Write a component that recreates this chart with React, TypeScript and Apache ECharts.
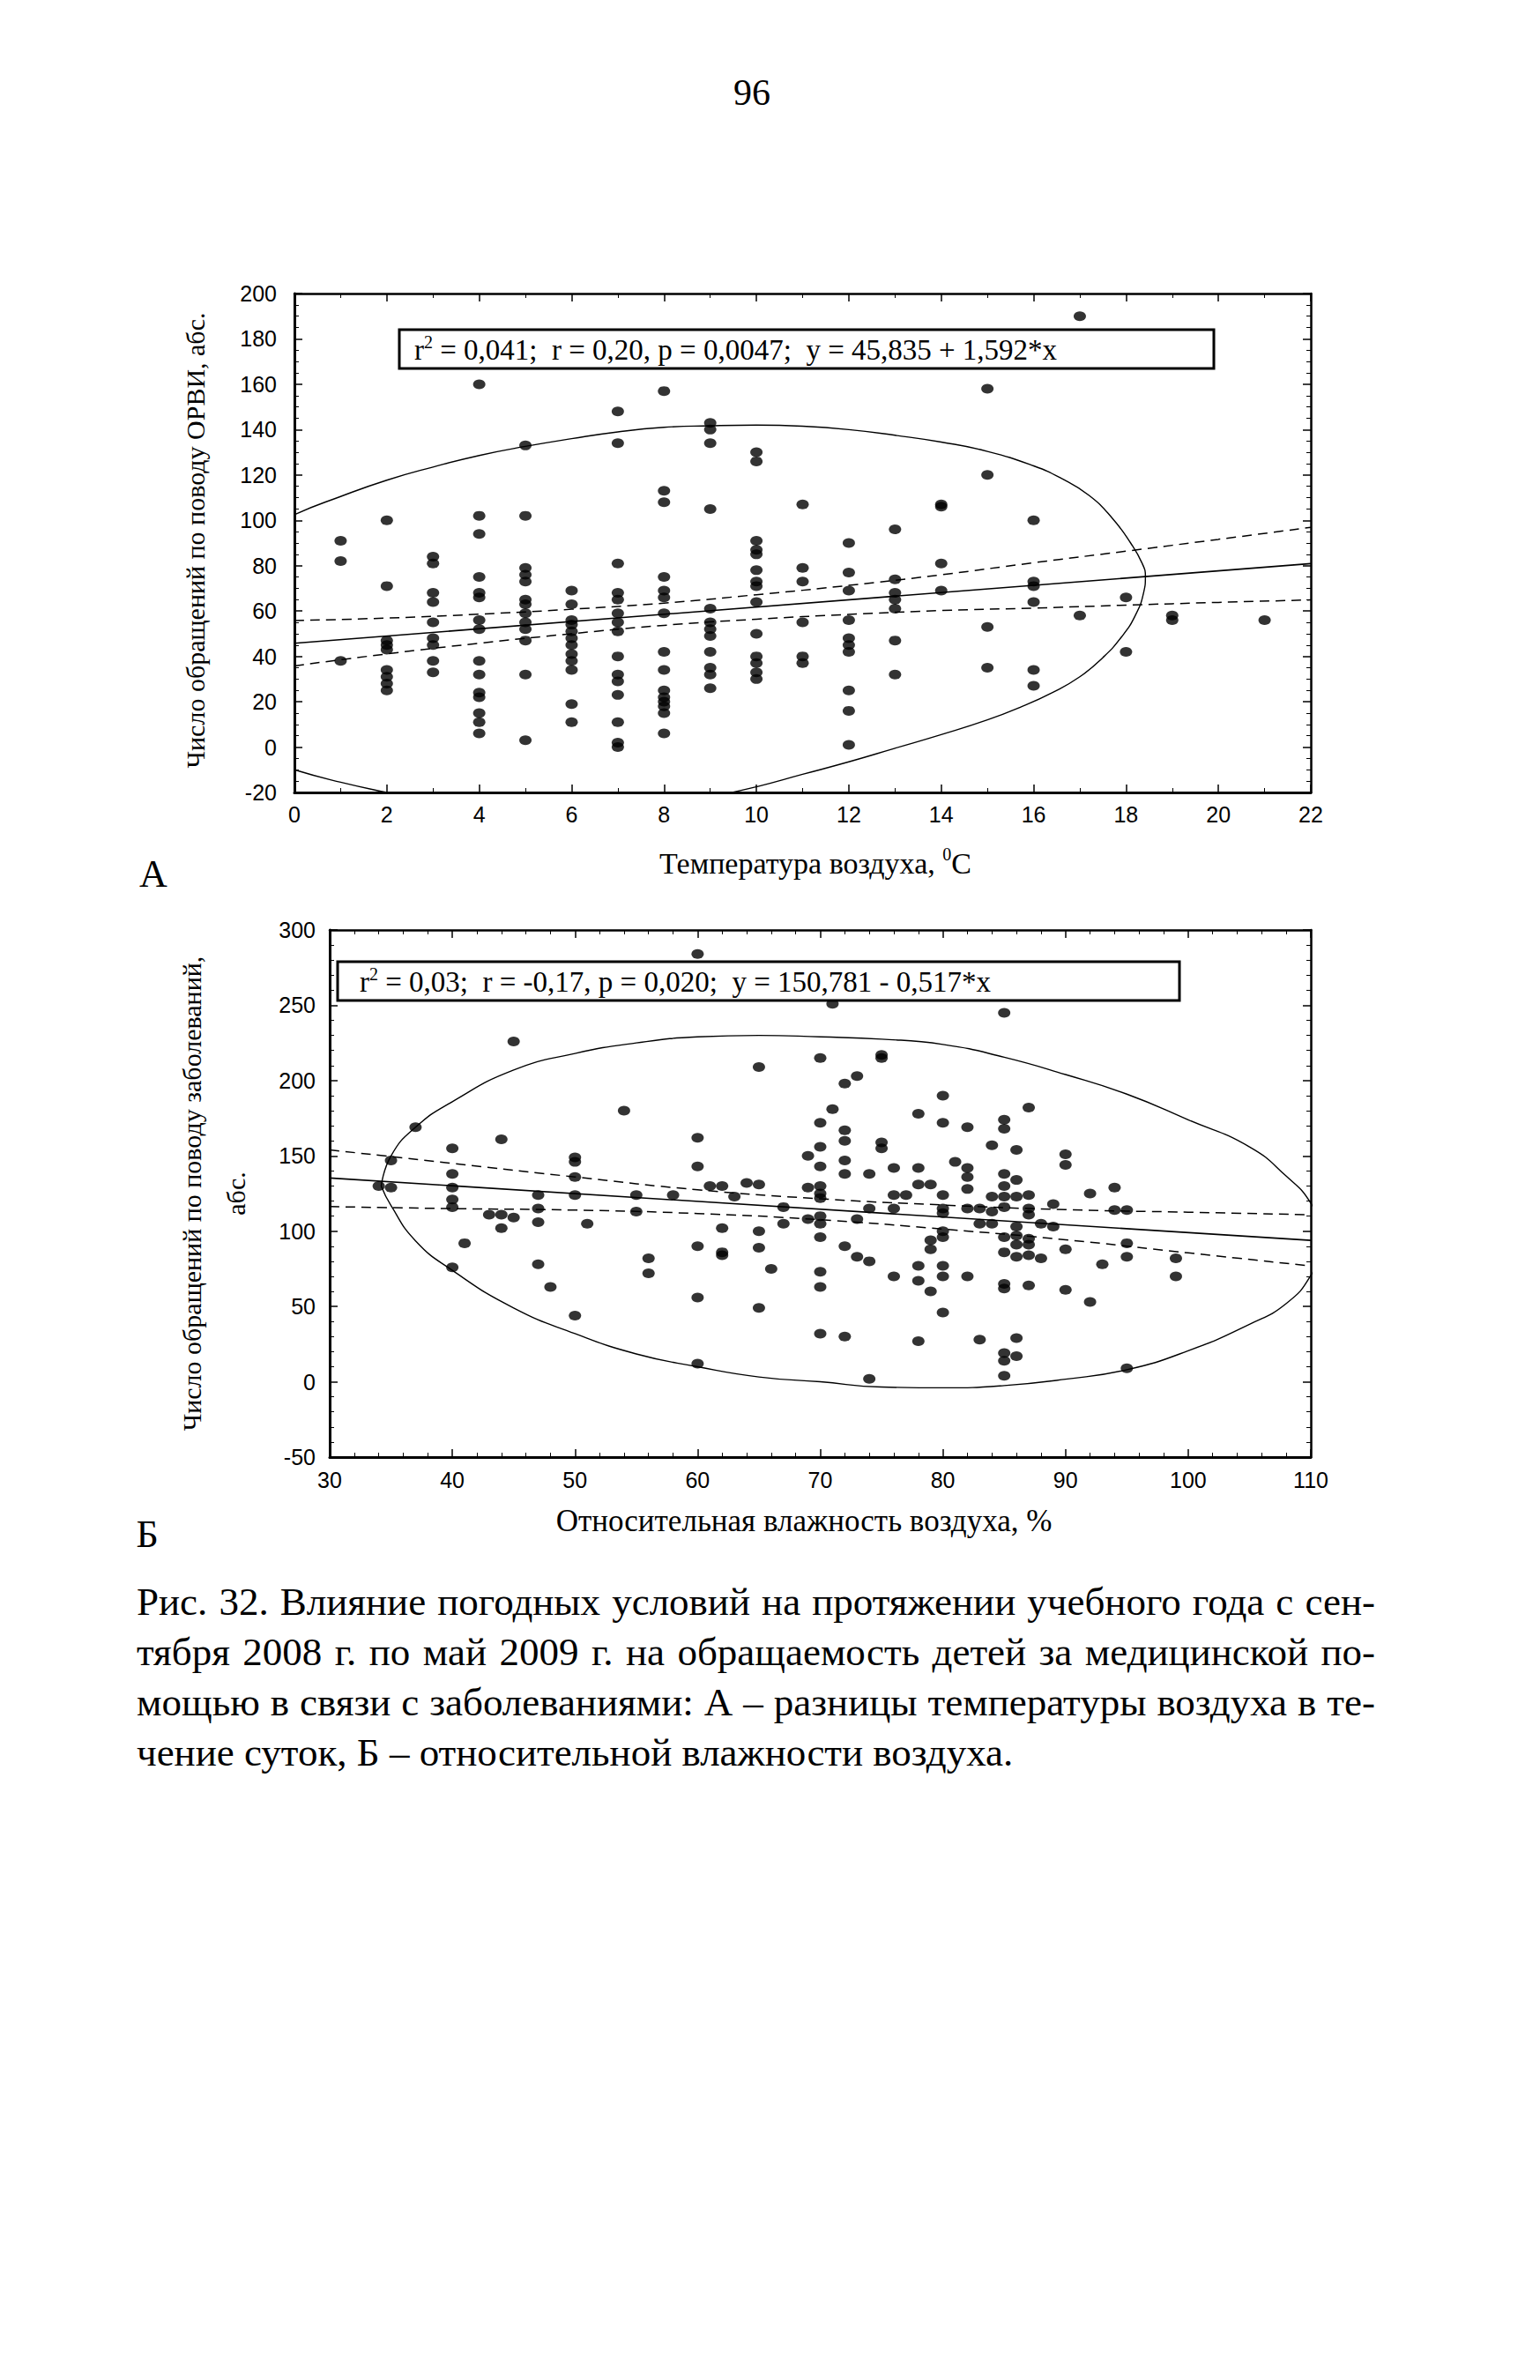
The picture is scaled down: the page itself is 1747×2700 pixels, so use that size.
import React, { useEffect, useRef } from "react";
import * as echarts from "echarts";

// ---------- Chart A: temperature difference vs. ARI visits ----------
const ariTemps = [1, 2, 3, 4, 5, 6, 7, 8, 9, 10, 11, 12, 13, 14, 15, 16, 17, 18, 19, 21];
const ariCounts: number[][] = [
  [91, 82, 38],
  [100, 71, 47, 45, 43, 34, 31, 28, 25],
  [84, 81, 68, 64, 55, 48, 45, 38, 33],
  [160, 102, 94, 75, 68, 66, 56, 52, 38, 32, 24, 22, 15, 11, 6],
  [133, 102, 79, 76, 73, 65, 63, 59, 55, 52, 47, 32, 3],
  [69, 63, 56, 54, 51, 48, 45, 41, 38, 34, 19, 11],
  [148, 134, 81, 68, 65, 59, 55, 51, 40, 32, 29, 23, 11, 2, 0],
  [157, 113, 108, 75, 69, 66, 59, 42, 34, 25, 22, 20, 18, 15, 6],
  [143, 140, 134, 105, 61, 55, 52, 49, 42, 35, 32, 26],
  [130, 126, 91, 87, 85, 78, 73, 71, 64, 50, 40, 37, 33, 30],
  [107, 79, 73, 55, 40, 37],
  [90, 77, 69, 56, 48, 45, 42, 25, 16, 1],
  [96, 74, 68, 65, 61, 47, 32],
  [107, 106, 81, 69],
  [158, 120, 53, 35],
  [100, 73, 71, 64, 34, 27],
  [190, 58],
  [66, 42],
  [58, 56],
  [56],
];
const ariFit: number[][] = [[0, 45.8], [22, 80.9]];
const ariBandX = [0, 2, 4, 6, 8, 10, 12, 14, 16, 18, 20, 22];
const ariBandUpper = [55.8, 56.9, 58.6, 60.8, 63.5, 67.2, 71.3, 76.0, 81.3, 86.4, 91.6, 96.9];
const ariBandLower = [35.8, 41.1, 45.8, 50.0, 53.7, 56.4, 58.5, 60.2, 61.3, 62.6, 63.8, 64.9];
const ariEllipse: number[][] = [
  [-2.6, 45], [-2.2, 75], [-1, 92], [0, 102.5], [1, 110.5], [2, 117.7], [3, 123.5], [4, 128.6],
  [5, 132.6], [6, 136], [7, 139], [8, 141], [9, 141.7], [10, 142], [11, 141.5], [12, 140],
  [13, 137.5], [14, 134.5], [15, 130.4], [16, 124], [16.6, 118.5], [17.2, 111], [17.7, 101],
  [18.1, 90], [18.35, 81], [18.42, 75.3], [18.38, 68], [18.2, 58], [17.9, 48.5], [17.5, 39.5],
  [17, 31], [16.4, 24], [15.7, 17.5], [15, 12], [14, 5.5], [13, -0.5], [12, -6.5], [11, -12],
  [10, -17.5], [9, -22], [8, -25.5], [6, -28.5], [4, -27], [3, -24], [2, -20], [1, -15.5],
  [0, -10], [-1, -3], [-2, 10], [-2.5, 28], [-2.6, 45],
];
const ariXTicks = { min: 0, max: 22, interval: 2 };
const ariYTicks = { min: -20, max: 200, interval: 20 };

// ---------- Chart B: relative humidity vs. sickness visits ----------
const humValues = [34, 35, 37, 40, 41, 43, 44, 45, 47, 48, 50, 51, 54, 55, 56, 58, 60, 61, 62, 63, 64, 65, 66, 67, 69, 70, 71, 72, 73, 74, 75, 76, 77, 78, 79, 80, 81, 82, 83, 84, 85, 86, 87, 88, 89, 90, 92, 93, 94, 95, 99];
const sickCounts: number[][] = [
  [130],
  [147, 129],
  [169],
  [155, 138, 129, 121, 116, 76],
  [92],
  [111],
  [161, 111, 102],
  [226, 109],
  [124, 115, 106, 78],
  [63],
  [149, 146, 136, 124, 44],
  [105],
  [180],
  [124, 113],
  [82, 72],
  [124],
  [284, 162, 143, 90, 56, 12],
  [130],
  [130, 102, 86, 84],
  [123],
  [132],
  [209, 131, 100, 89, 49],
  [75],
  [116, 105],
  [150, 129, 108],
  [215, 172, 156, 143, 130, 125, 122, 110, 105, 96, 73, 63, 32],
  [251, 181],
  [198, 167, 160, 147, 138, 90, 30],
  [203, 108, 83],
  [138, 115, 80, 2],
  [217, 215, 159, 155],
  [142, 124, 115, 70],
  [124],
  [178, 142, 131, 77, 67, 27],
  [131, 94, 88, 60],
  [190, 172, 124, 115, 112, 100, 96, 77, 70, 46],
  [146],
  [169, 142, 136, 128, 115, 70],
  [115, 105, 28],
  [157, 123, 113, 105],
  [245, 174, 168, 138, 130, 123, 116, 96, 86, 65, 62, 19, 14, 4],
  [154, 134, 123, 103, 97, 91, 83, 29, 17],
  [182, 124, 115, 111, 95, 91, 84, 64],
  [105, 82],
  [118, 103],
  [151, 144, 88, 61],
  [125, 53],
  [78],
  [129, 114],
  [114, 92, 83, 9],
  [82, 70],
];
const sickFit: number[][] = [[30, 135.3], [110, 93.9]];
const sickBandX = [30, 40, 50, 60, 70, 80, 90, 100, 110];
const sickBandUpper = [154, 145, 136, 127.5, 121.5, 117.4, 114.3, 112.6, 110.9];
const sickBandLower = [116.3, 115, 114, 111.7, 107.6, 101.4, 94.3, 85.6, 76.9];
const sickEllipse: number[][] = [
  [34.2, 130], [35, 150], [37, 169], [40, 186], [45, 207], [50, 218], [55, 225], [60, 229],
  [65, 230], [70, 229], [75, 227.5], [80, 224], [85, 215.5], [90, 204], [95, 191], [100, 174],
  [105, 156], [108, 136.5], [110, 118.6], [111.2, 95], [110, 70.6], [108, 52], [105, 38.2],
  [100, 20.6], [95, 8], [90, 1.7], [85, -2.5], [80, -4], [75, -3.5], [70, 0], [65, 3.2],
  [60, 10], [55, 18.5], [50, 32], [45, 49], [40, 74], [37, 93.6], [35, 117], [34.2, 130],
];
const humXTicks = { min: 30, max: 110, interval: 10 };
const sickYTicks = { min: -50, max: 300, interval: 50 };

// ---------- Texts ----------
const pageNumber = "96";
const ariYTitle = "Число обращений по поводу ОРВИ, абс.";
const ariXTitle = "Температура воздуха, {sup|0}C";
const ariStats = "r{sup|2} = 0,041;  r = 0,20, p = 0,0047;  y = 45,835 + 1,592*x";
const sickYTitle = "Число обращений по поводу заболеваний,\nабс.";
const sickXTitle = "Относительная влажность воздуха, %";
const sickStats = "r{sup|2} = 0,03;  r = -0,17, p = 0,020;  y = 150,781 - 0,517*x";
const captionLines = [
  "Рис. 32. Влияние погодных условий на протяжении учебного года с сен-",
  "тября 2008 г. по май 2009 г. на обращаемость детей за медицинской по-",
  "мощью в связи с заболеваниями: А – разницы температуры воздуха в те-",
  "чение суток, Б – относительной влажности воздуха.",
];

const SERIF = '"Liberation Serif", "Times New Roman", serif';
const SANS = '"Liberation Sans", Arial, sans-serif';

function flatten(xs: number[], groups: number[][]): number[][] {
  const out: number[][] = [];
  xs.forEach((x, i) => groups[i].forEach((y) => out.push([x, y])));
  return out;
}
function zip(xs: number[], ys: number[]): number[][] {
  return xs.map((x, i) => [x, ys[i]]);
}

function axis(
  gridIndex: number,
  ticks: { min: number; max: number; interval: number },
  position: string,
  showLabel: boolean,
  minorSplit: number,
  margin: number,
  lineWidth: number
) {
  return {
    type: "value",
    gridIndex,
    position,
    min: ticks.min,
    max: ticks.max,
    interval: ticks.interval,
    axisLine: { show: true, onZero: false, lineStyle: { color: "#000", width: lineWidth } },
    axisTick: { show: true, inside: true, length: 9, lineStyle: { color: "#000", width: 1.5 } },
    minorTick: { show: true, splitNumber: minorSplit, length: 5, lineStyle: { color: "#000", width: 1 } },
    splitLine: { show: false },
    minorSplitLine: { show: false },
    axisLabel: {
      show: showLabel,
      color: "#000",
      fontFamily: SANS,
      fontSize: 25,
      margin,
    },
  };
}

const dotStyle = { color: "#000" };
const stroke = (w: number, dashed?: boolean) => ({
  color: "#000",
  width: w,
  type: dashed ? [11, 7] : "solid",
});

export default function App() {
  const ref = useRef<HTMLDivElement>(null);

  useEffect(() => {
    if (!ref.current) return;
    const chart = echarts.init(ref.current, null, { renderer: "svg" });

    const supRich = {
      sup: { fontSize: 20, fontFamily: SERIF, verticalAlign: "top", lineHeight: 18, fill: "#000" },
    };

    const lineSeries = (xi: number, yi: number, data: number[][], w: number, dashed: boolean, smooth: any) => ({
      type: "line",
      xAxisIndex: xi,
      yAxisIndex: yi,
      data,
      smooth,
      showSymbol: false,
      symbol: "none",
      clip: true,
      lineStyle: stroke(w, dashed),
      z: 2,
      silent: true,
    });

    const option: any = {
      animation: false,
      backgroundColor: "#fff",
      grid: [
        { left: 334, top: 333, width: 1153, height: 566, containLabel: false },
        { left: 374, top: 1055, width: 1113, height: 598, containLabel: false },
      ],
      xAxis: [
        axis(0, ariXTicks, "bottom", true, 2, 12, 3),
        axis(0, ariXTicks, "top", false, 2, 8, 2.5),
        axis(1, humXTicks, "bottom", true, 5, 13, 3),
        axis(1, humXTicks, "top", false, 5, 8, 2.5),
      ],
      yAxis: [
        axis(0, ariYTicks, "left", true, 4, 20, 3),
        axis(0, ariYTicks, "right", false, 4, 20, 2.5),
        axis(1, sickYTicks, "left", true, 5, 16, 3),
        axis(1, sickYTicks, "right", false, 5, 16, 2.5),
      ],
      series: [
        lineSeries(0, 0, ariEllipse, 1.4, false, 0.5),
        lineSeries(0, 0, zip(ariBandX, ariBandUpper), 1.5, true, true),
        lineSeries(0, 0, zip(ariBandX, ariBandLower), 1.5, true, true),
        lineSeries(0, 0, ariFit, 1.6, false, false),
        {
          type: "scatter", xAxisIndex: 0, yAxisIndex: 0, data: flatten(ariTemps, ariCounts),
          symbol: "circle", symbolSize: [14, 11], itemStyle: dotStyle, z: 3,
        },
        lineSeries(2, 2, sickEllipse, 1.4, false, 0.5),
        lineSeries(2, 2, zip(sickBandX, sickBandUpper), 1.5, true, true),
        lineSeries(2, 2, zip(sickBandX, sickBandLower), 1.5, true, true),
        lineSeries(2, 2, sickFit, 1.6, false, false),
        {
          type: "scatter", xAxisIndex: 2, yAxisIndex: 2, data: flatten(humValues, sickCounts),
          symbol: "circle", symbolSize: [14, 11], itemStyle: dotStyle, z: 3,
        },
      ],
      graphic: [
        {
          type: "text", x: 853, y: 105, z: 10,
          style: { text: pageNumber, fontFamily: SERIF, fontSize: 42, fill: "#000", align: "center", verticalAlign: "middle" },
        },
        {
          type: "rect", z: 20, shape: { x: 453, y: 374, width: 924, height: 44 },
          style: { fill: "#fff", stroke: "#000", lineWidth: 3 },
        },
        {
          type: "text", x: 470, y: 397, z: 21,
          style: {
            text: ariStats, fontFamily: SERIF, fontSize: 33, lineHeight: 38, fill: "#000",
            align: "left", verticalAlign: "middle", rich: supRich,
          },
        },
        {
          type: "text", x: 221, y: 613, z: 10, rotation: Math.PI / 2,
          style: { text: ariYTitle, fontFamily: SERIF, fontSize: 30, fill: "#000", align: "center", verticalAlign: "middle" },
        },
        {
          type: "text", x: 925, y: 979, z: 10,
          style: {
            text: ariXTitle, fontFamily: SERIF, fontSize: 34, lineHeight: 40, fill: "#000",
            align: "center", verticalAlign: "middle", rich: supRich,
          },
        },
        {
          type: "text", x: 174, y: 991, z: 10,
          style: { text: "А", fontFamily: SERIF, fontSize: 44, fill: "#000", align: "center", verticalAlign: "middle" },
        },
        {
          type: "rect", z: 20, shape: { x: 383, y: 1091, width: 955, height: 44 },
          style: { fill: "#fff", stroke: "#000", lineWidth: 3 },
        },
        {
          type: "text", x: 408, y: 1114, z: 21,
          style: {
            text: sickStats, fontFamily: SERIF, fontSize: 33, lineHeight: 38, fill: "#000",
            align: "left", verticalAlign: "middle", rich: supRich,
          },
        },
        {
          type: "text", x: 242, y: 1354, z: 10, rotation: Math.PI / 2,
          style: {
            text: sickYTitle, fontFamily: SERIF, fontSize: 30, lineHeight: 50, fill: "#000",
            align: "center", verticalAlign: "middle",
          },
        },
        {
          type: "text", x: 912, y: 1725, z: 10,
          style: { text: sickXTitle, fontFamily: SERIF, fontSize: 35, fill: "#000", align: "center", verticalAlign: "middle" },
        },
        {
          type: "text", x: 167, y: 1740, z: 10,
          style: { text: "Б", fontFamily: SERIF, fontSize: 44, fill: "#000", align: "center", verticalAlign: "middle" },
        },
      ],
    };

    chart.setOption(option);
    return () => chart.dispose();
  }, []);

  return (
    <div style={{ position: "absolute", left: 0, top: 0, width: 1747, height: 2700, background: "#fff" }}>
      <div ref={ref} style={{ position: "absolute", left: 0, top: 0, width: 1747, height: 2700 }} />
      <div
        style={{
          position: "absolute",
          left: 155,
          top: 1789,
          width: 1405,
          fontFamily: SERIF,
          fontSize: 45,
          lineHeight: "57px",
          color: "#000",
        }}
      >
        {captionLines.map((line, i) => (
          <div
            key={i}
            style={{
              whiteSpace: "nowrap",
              textAlign: i < captionLines.length - 1 ? "justify" : "left",
              textAlignLast: i < captionLines.length - 1 ? "justify" : "left",
            } as any}
          >
            {line}
          </div>
        ))}
      </div>
    </div>
  );
}
